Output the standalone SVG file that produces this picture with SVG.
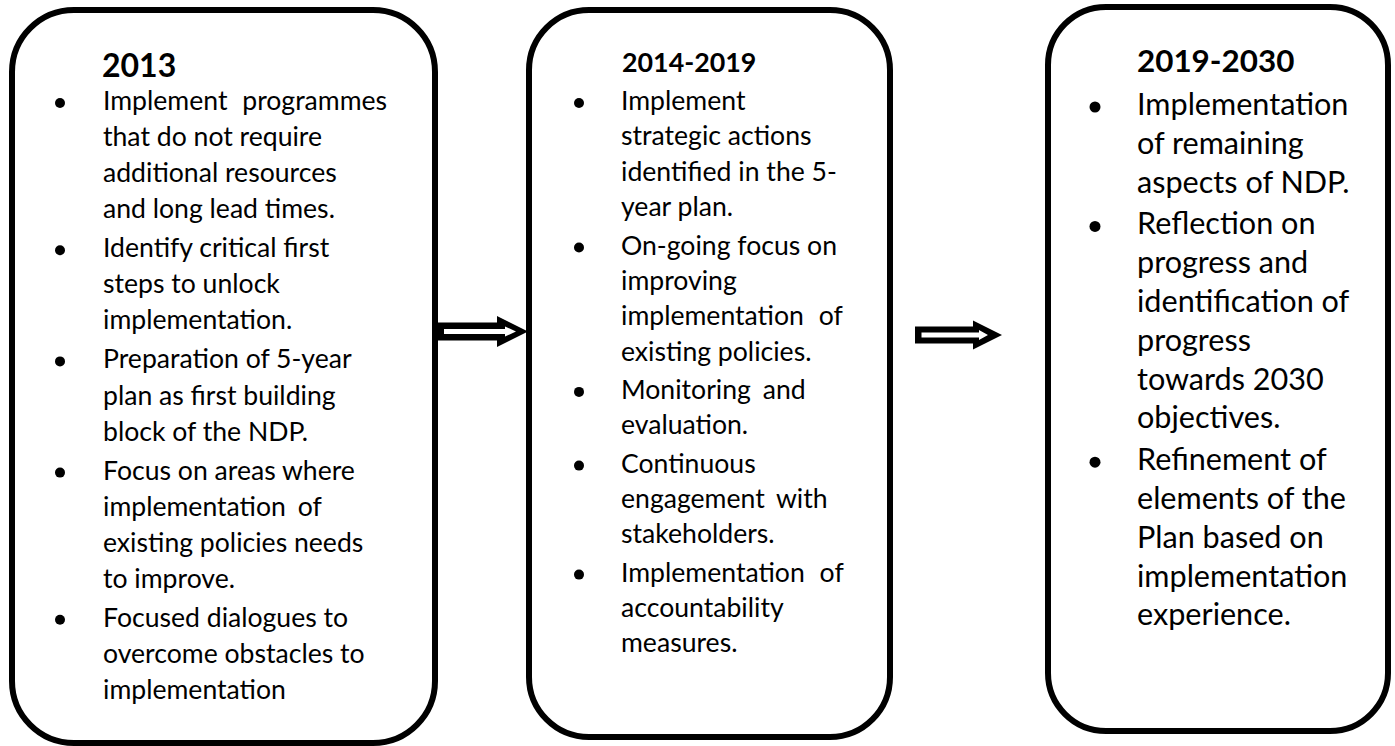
<svg xmlns="http://www.w3.org/2000/svg" width="1395" height="746" viewBox="0 0 1395 746">
<style>
.box{fill:#fff;stroke:#000;stroke-width:6}
text{fill:#000;font-family:Lato,"Open Sans","Liberation Sans",sans-serif}
.b1{font-size:26.6px}
.b2{font-size:26.6px}
.b3{font-size:30.6px}
.h1{font-size:32px;font-weight:bold}
.h2{font-size:26.8px;font-weight:bold}
.h3{font-size:31.4px;font-weight:bold}
.dot{fill:#000}
.ws5{word-spacing:5px}
.ws8{word-spacing:8px}
</style>
<rect width="1395" height="746" fill="#fff"/>
<g id="box-2013">
<rect class="box" x="12" y="10" width="423" height="733" rx="62" ry="62"/>
<text class="h1" x="102" y="77">2013</text>
<g class="dot">
<circle cx="60" cy="103" r="5"/>
<circle cx="60" cy="250.2" r="5"/>
<circle cx="60" cy="361.4" r="5"/>
<circle cx="60" cy="472.6" r="5"/>
<circle cx="60" cy="619.8" r="5"/>
</g>
<g class="b1">
<text x="103" y="110" class="ws8">Implement programmes</text>
<text x="103" y="146.1">that do not require</text>
<text x="103" y="182.1">additional resources</text>
<text x="103" y="218.2">and long lead times.</text>
<text x="103" y="257.2">Identify critical first</text>
<text x="103" y="293.3">steps to unlock</text>
<text x="103" y="329.4">implementation.</text>
<text x="103" y="368.4">Preparation of 5-year</text>
<text x="103" y="404.5">plan as first building</text>
<text x="103" y="440.5">block of the NDP.</text>
<text x="103" y="479.6">Focus on areas where</text>
<text x="103" y="515.7" class="ws5">implementation of</text>
<text x="103" y="551.7">existing policies needs</text>
<text x="103" y="587.8">to improve.</text>
<text x="103" y="626.8">Focused dialogues to</text>
<text x="103" y="662.9">overcome obstacles to</text>
<text x="103" y="699">implementation</text>
</g>
</g>
<g id="box-2014-2019">
<rect class="box" x="529" y="10" width="361" height="727" rx="60" ry="60"/>
<text class="h2" x="622" y="72">2014-2019</text>
<g class="dot">
<circle cx="579" cy="103" r="5"/>
<circle cx="579" cy="247.5" r="5"/>
<circle cx="579" cy="391.9" r="5"/>
<circle cx="579" cy="465.6" r="5"/>
<circle cx="579" cy="574.6" r="5"/>
</g>
<g class="b2">
<text x="621" y="110">Implement</text>
<text x="621" y="145.4">strategic actions</text>
<text x="621" y="180.8">identified in the 5-</text>
<text x="621" y="216.2">year plan.</text>
<text x="621" y="254.5">On-going focus on</text>
<text x="621" y="289.9">improving</text>
<text x="621" y="325.3" class="ws8">implementation of</text>
<text x="621" y="360.7">existing policies.</text>
<text x="621" y="398.9" class="ws5">Monitoring and</text>
<text x="621" y="434.3">evaluation.</text>
<text x="621" y="472.6">Continuous</text>
<text x="621" y="508" class="ws5">engagement with</text>
<text x="621" y="543.4">stakeholders.</text>
<text x="621" y="581.6" class="ws8">Implementation of</text>
<text x="621" y="617">accountability</text>
<text x="621" y="652.4">measures.</text>
</g>
</g>
<g id="box-2019-2030">
<rect class="box" x="1048" y="7" width="340" height="724" rx="58" ry="58"/>
<text class="h3" x="1137" y="72">2019-2030</text>
<g class="dot">
<circle cx="1095" cy="107" r="5.5"/>
<circle cx="1095" cy="226.4" r="5.5"/>
<circle cx="1095" cy="462.2" r="5.5"/>
</g>
<g class="b3">
<text x="1137" y="115">Implementation</text>
<text x="1137" y="153.8">of remaining</text>
<text x="1137" y="192.6">aspects of NDP.</text>
<text x="1137" y="234.4">Reflection on</text>
<text x="1137" y="273.2">progress and</text>
<text x="1137" y="312">identification of</text>
<text x="1137" y="350.8">progress</text>
<text x="1137" y="389.6">towards 2030</text>
<text x="1137" y="428.4">objectives.</text>
<text x="1137" y="470.2">Refinement of</text>
<text x="1137" y="509">elements of the</text>
<text x="1137" y="547.8">Plan based on</text>
<text x="1137" y="586.6">implementation</text>
<text x="1137" y="625.4">experience.</text>
</g>
</g>
<g id="connectors">
<path d="M437,322.5 L497,322.5 L497,316 L528,331.5 L497,347 L497,340.5 L437,340.5 Z" fill="#000"/>
<path d="M444,329 L505,329 L505,326.5 L516,331.5 L505,336.5 L505,334 L444,334 Z" fill="#fff"/>
<path d="M915,326.5 L973,326.5 L973,320.5 L1002,335 L973,349.5 L973,343.5 L915,343.5 Z" fill="#000"/>
<path d="M921.5,332.5 L979,332.5 L979,330 L988,335 L979,340 L979,337.5 L921.5,337.5 Z" fill="#fff"/>
</g>
</svg>
